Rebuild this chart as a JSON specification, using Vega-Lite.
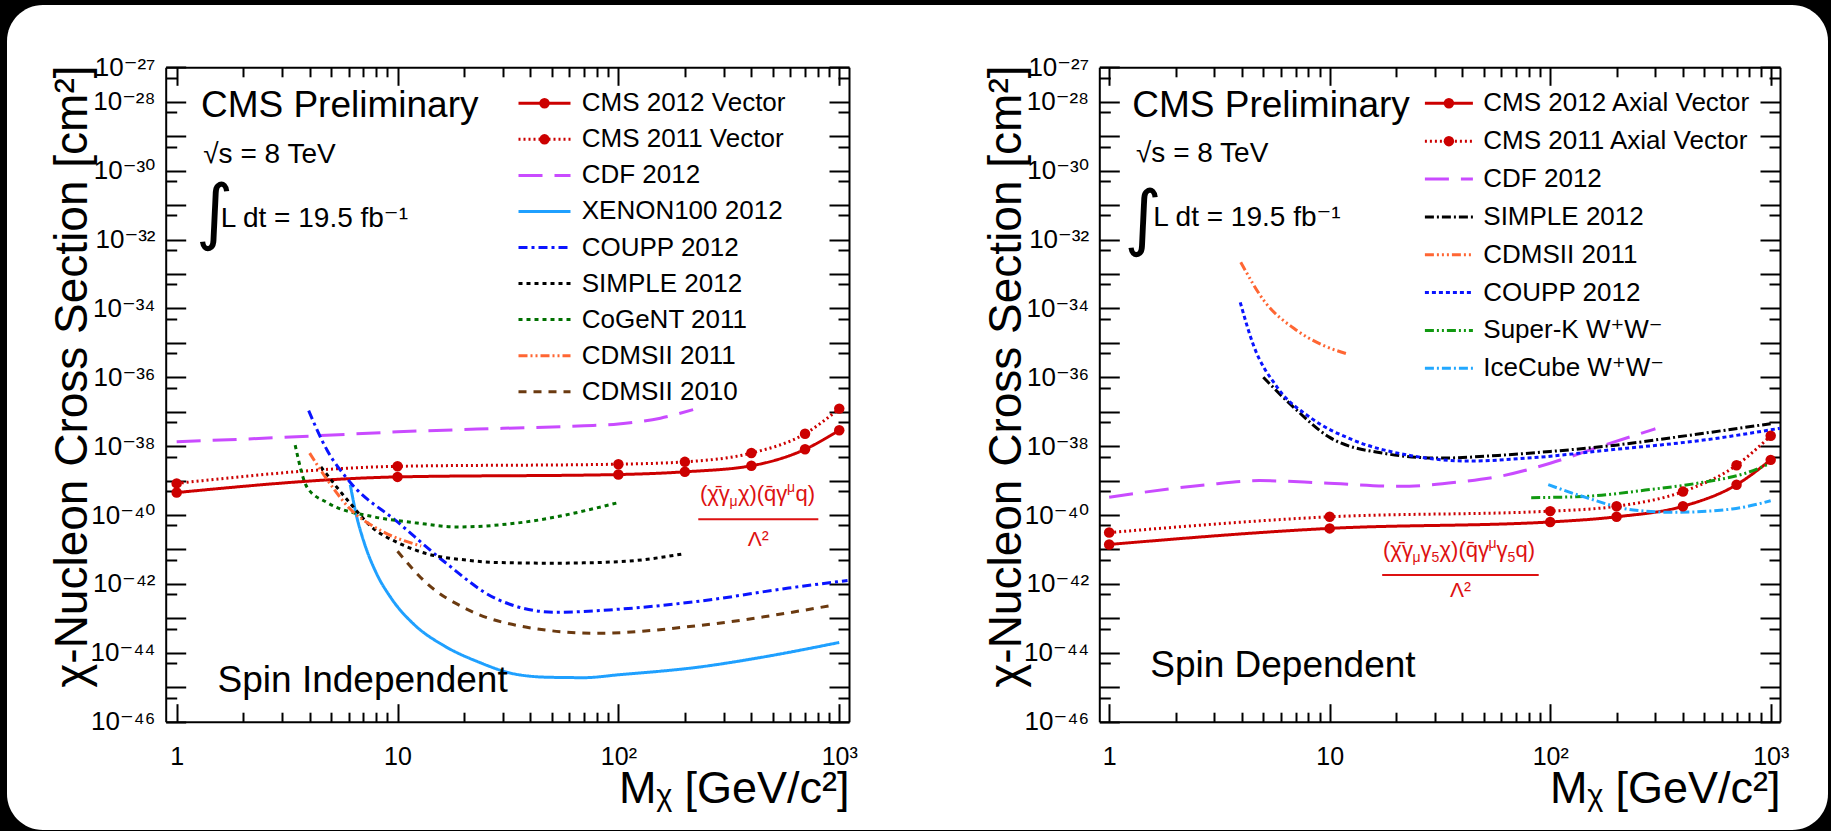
{
  "$schema": "https://vega.github.io/schema/vega-lite/v6.json",
  "width": 1821,
  "height": 825,
  "autosize": {"type": "none"},
  "padding": {"left": 7, "top": 5, "right": 3, "bottom": 1},
  "background": "black",
  "config": {
    "view": {"fill": "white", "stroke": null, "cornerRadius": 36},
    "axis": {"labelFont": "Liberation Sans, DejaVu Sans", "labelColor": "black", "titleFont": "Liberation Sans, DejaVu Sans", "titleColor": "black", "titleFontWeight": "normal", "domainColor": "black", "tickColor": "black", "grid": false, "domainWidth": 2, "tickWidth": 2, "labelFlush": false, "labelOverlap": false},
    "legend": {"labelFont": "Liberation Sans, DejaVu Sans", "labelColor": "black", "padding": 0, "labelLimit": 0},
    "text": {"font": "Liberation Sans, DejaVu Sans", "color": "black"}
  },
  "datasets": {
    "si": [
      {"s": "CMS 2012 Vector", "m": "CMS 2012 Vector", "x": 1, "y": 4.5e-40},
      {"s": "CMS 2012 Vector", "m": "CMS 2012 Vector", "x": 10, "y": 1.28e-39},
      {"s": "CMS 2012 Vector", "m": "CMS 2012 Vector", "x": 100, "y": 1.5e-39},
      {"s": "CMS 2012 Vector", "m": "CMS 2012 Vector", "x": 200, "y": 1.8e-39},
      {"s": "CMS 2012 Vector", "m": "CMS 2012 Vector", "x": 400, "y": 2.7e-39},
      {"s": "CMS 2012 Vector", "m": "CMS 2012 Vector", "x": 700, "y": 8.1e-39},
      {"s": "CMS 2012 Vector", "m": "CMS 2012 Vector", "x": 1000, "y": 2.9e-38},
      {"s": "CMS 2011 Vector", "m": "CMS 2011 Vector", "x": 1, "y": 8.3e-40},
      {"s": "CMS 2011 Vector", "m": "CMS 2011 Vector", "x": 10, "y": 2.6e-39},
      {"s": "CMS 2011 Vector", "m": "CMS 2011 Vector", "x": 100, "y": 3.0e-39},
      {"s": "CMS 2011 Vector", "m": "CMS 2011 Vector", "x": 200, "y": 3.5e-39},
      {"s": "CMS 2011 Vector", "m": "CMS 2011 Vector", "x": 400, "y": 6.3e-39},
      {"s": "CMS 2011 Vector", "m": "CMS 2011 Vector", "x": 700, "y": 2.3e-38},
      {"s": "CMS 2011 Vector", "m": "CMS 2011 Vector", "x": 1000, "y": 1.23e-37},
      {"s": "CDF 2012", "x": 1, "y": 1.35e-38},
      {"s": "CDF 2012", "x": 2, "y": 1.6e-38},
      {"s": "CDF 2012", "x": 4.3, "y": 2.0e-38},
      {"s": "CDF 2012", "x": 10, "y": 2.6e-38},
      {"s": "CDF 2012", "x": 30, "y": 3.3e-38},
      {"s": "CDF 2012", "x": 70, "y": 3.9e-38},
      {"s": "CDF 2012", "x": 100, "y": 4.4e-38},
      {"s": "CDF 2012", "x": 155, "y": 6.5e-38},
      {"s": "CDF 2012", "x": 218, "y": 1.15e-37},
      {"s": "XENON100 2012", "x": 6.11, "y": 7.6e-40},
      {"s": "XENON100 2012", "x": 6.49, "y": 1.08e-40},
      {"s": "XENON100 2012", "x": 7.07, "y": 1.55e-41},
      {"s": "XENON100 2012", "x": 7.98, "y": 2.2e-42},
      {"s": "XENON100 2012", "x": 9.35, "y": 3.9e-43},
      {"s": "XENON100 2012", "x": 11.9, "y": 6.6e-44},
      {"s": "XENON100 2012", "x": 16.2, "y": 1.62e-44},
      {"s": "XENON100 2012", "x": 23.3, "y": 5.4e-45},
      {"s": "XENON100 2012", "x": 33.6, "y": 2.45e-45},
      {"s": "XENON100 2012", "x": 48.3, "y": 1.95e-45},
      {"s": "XENON100 2012", "x": 70, "y": 1.9e-45},
      {"s": "XENON100 2012", "x": 100, "y": 2.3e-45},
      {"s": "XENON100 2012", "x": 235, "y": 3.9e-45},
      {"s": "XENON100 2012", "x": 450, "y": 7.5e-45},
      {"s": "XENON100 2012", "x": 1000, "y": 2.0e-44},
      {"s": "COUPP 2012", "x": 3.96, "y": 1.07e-37},
      {"s": "COUPP 2012", "x": 4.8, "y": 7.6e-39},
      {"s": "COUPP 2012", "x": 6.1, "y": 9.0e-40},
      {"s": "COUPP 2012", "x": 10, "y": 6.3e-41},
      {"s": "COUPP 2012", "x": 16.3, "y": 4.4e-42},
      {"s": "COUPP 2012", "x": 28, "y": 3.7e-43},
      {"s": "COUPP 2012", "x": 52, "y": 1.5e-43},
      {"s": "COUPP 2012", "x": 95, "y": 1.8e-43},
      {"s": "COUPP 2012", "x": 237, "y": 3.2e-43},
      {"s": "COUPP 2012", "x": 590, "y": 7.6e-43},
      {"s": "COUPP 2012", "x": 1090, "y": 1.26e-42},
      {"s": "SIMPLE 2012", "x": 4.5, "y": 2.5e-39},
      {"s": "SIMPLE 2012", "x": 6, "y": 2.5e-40},
      {"s": "SIMPLE 2012", "x": 7.8, "y": 4.0e-41},
      {"s": "SIMPLE 2012", "x": 10, "y": 1.6e-41},
      {"s": "SIMPLE 2012", "x": 13.5, "y": 7.6e-42},
      {"s": "SIMPLE 2012", "x": 20, "y": 5.0e-42},
      {"s": "SIMPLE 2012", "x": 28, "y": 4.2e-42},
      {"s": "SIMPLE 2012", "x": 50, "y": 4.0e-42},
      {"s": "SIMPLE 2012", "x": 100, "y": 4.4e-42},
      {"s": "SIMPLE 2012", "x": 200, "y": 7.6e-42},
      {"s": "CoGeNT 2011", "x": 3.44, "y": 1.07e-38},
      {"s": "CoGeNT 2011", "x": 3.9, "y": 6.3e-40},
      {"s": "CoGeNT 2011", "x": 4.8, "y": 2.3e-40},
      {"s": "CoGeNT 2011", "x": 7.8, "y": 8.9e-41},
      {"s": "CoGeNT 2011", "x": 12, "y": 6.0e-41},
      {"s": "CoGeNT 2011", "x": 18.4, "y": 4.5e-41},
      {"s": "CoGeNT 2011", "x": 38, "y": 6.3e-41},
      {"s": "CoGeNT 2011", "x": 100, "y": 2.3e-40},
      {"s": "CDMSII 2011", "x": 4, "y": 6.3e-39},
      {"s": "CDMSII 2011", "x": 4.8, "y": 1.07e-39},
      {"s": "CDMSII 2011", "x": 6.1, "y": 1.5e-40},
      {"s": "CDMSII 2011", "x": 8.3, "y": 3.7e-41},
      {"s": "CDMSII 2011", "x": 12.8, "y": 1.26e-41},
      {"s": "CDMSII 2010", "x": 10, "y": 8.9e-42},
      {"s": "CDMSII 2010", "x": 13.5, "y": 1.07e-42},
      {"s": "CDMSII 2010", "x": 20.8, "y": 1.8e-43},
      {"s": "CDMSII 2010", "x": 38, "y": 5.6e-44},
      {"s": "CDMSII 2010", "x": 79, "y": 3.7e-44},
      {"s": "CDMSII 2010", "x": 237, "y": 6.3e-44},
      {"s": "CDMSII 2010", "x": 900, "y": 2.3e-43}
    ],
    "sd": [
      {"s": "CMS 2012 Axial Vector", "m": "CMS 2012 Axial Vector", "x": 1, "y": 1.4e-41},
      {"s": "CMS 2012 Axial Vector", "m": "CMS 2012 Axial Vector", "x": 10, "y": 4.1e-41},
      {"s": "CMS 2012 Axial Vector", "m": "CMS 2012 Axial Vector", "x": 100, "y": 6.3e-41},
      {"s": "CMS 2012 Axial Vector", "m": "CMS 2012 Axial Vector", "x": 200, "y": 8.9e-41},
      {"s": "CMS 2012 Axial Vector", "m": "CMS 2012 Axial Vector", "x": 400, "y": 1.8e-40},
      {"s": "CMS 2012 Axial Vector", "m": "CMS 2012 Axial Vector", "x": 700, "y": 7.6e-40},
      {"s": "CMS 2012 Axial Vector", "m": "CMS 2012 Axial Vector", "x": 1000, "y": 4.0e-39},
      {"s": "CMS 2011 Axial Vector", "m": "CMS 2011 Axial Vector", "x": 1, "y": 3.1e-41},
      {"s": "CMS 2011 Axial Vector", "m": "CMS 2011 Axial Vector", "x": 10, "y": 8.9e-41},
      {"s": "CMS 2011 Axial Vector", "m": "CMS 2011 Axial Vector", "x": 100, "y": 1.3e-40},
      {"s": "CMS 2011 Axial Vector", "m": "CMS 2011 Axial Vector", "x": 200, "y": 1.8e-40},
      {"s": "CMS 2011 Axial Vector", "m": "CMS 2011 Axial Vector", "x": 400, "y": 4.8e-40},
      {"s": "CMS 2011 Axial Vector", "m": "CMS 2011 Axial Vector", "x": 700, "y": 2.8e-39},
      {"s": "CMS 2011 Axial Vector", "m": "CMS 2011 Axial Vector", "x": 1000, "y": 2.0e-38},
      {"s": "CDF 2012", "x": 1, "y": 3.3e-40},
      {"s": "CDF 2012", "x": 2.77, "y": 7.6e-40},
      {"s": "CDF 2012", "x": 4.8, "y": 1.0e-39},
      {"s": "CDF 2012", "x": 9.4, "y": 8.5e-40},
      {"s": "CDF 2012", "x": 20.7, "y": 6.8e-40},
      {"s": "CDF 2012", "x": 38, "y": 9.0e-40},
      {"s": "CDF 2012", "x": 58, "y": 1.3e-39},
      {"s": "CDF 2012", "x": 100, "y": 3.2e-39},
      {"s": "CDF 2012", "x": 176, "y": 1.07e-38},
      {"s": "CDF 2012", "x": 300, "y": 3.2e-38},
      {"s": "SIMPLE 2012", "x": 5, "y": 1.0e-36},
      {"s": "SIMPLE 2012", "x": 6.9, "y": 1.3e-37},
      {"s": "SIMPLE 2012", "x": 10, "y": 1.8e-38},
      {"s": "SIMPLE 2012", "x": 17.3, "y": 6.3e-39},
      {"s": "SIMPLE 2012", "x": 31.8, "y": 4.5e-39},
      {"s": "SIMPLE 2012", "x": 58, "y": 5.4e-39},
      {"s": "SIMPLE 2012", "x": 100, "y": 7.0e-39},
      {"s": "SIMPLE 2012", "x": 198, "y": 1.07e-38},
      {"s": "SIMPLE 2012", "x": 365, "y": 1.8e-38},
      {"s": "SIMPLE 2012", "x": 1000, "y": 4.5e-38},
      {"s": "CDMSII 2011", "x": 3.95, "y": 2.2e-33},
      {"s": "CDMSII 2011", "x": 5.1, "y": 1.5e-34},
      {"s": "CDMSII 2011", "x": 6.9, "y": 2.6e-35},
      {"s": "CDMSII 2011", "x": 9.4, "y": 8.3e-36},
      {"s": "CDMSII 2011", "x": 12, "y": 4.8e-36},
      {"s": "COUPP 2012", "x": 3.93, "y": 1.5e-34},
      {"s": "COUPP 2012", "x": 4.5, "y": 8.9e-36},
      {"s": "COUPP 2012", "x": 5.76, "y": 5.3e-37},
      {"s": "COUPP 2012", "x": 8.3, "y": 6.3e-38},
      {"s": "COUPP 2012", "x": 12.8, "y": 1.5e-38},
      {"s": "COUPP 2012", "x": 23.4, "y": 5.3e-39},
      {"s": "COUPP 2012", "x": 43, "y": 3.7e-39},
      {"s": "COUPP 2012", "x": 79, "y": 4.5e-39},
      {"s": "COUPP 2012", "x": 198, "y": 8.1e-39},
      {"s": "COUPP 2012", "x": 496, "y": 1.5e-38},
      {"s": "COUPP 2012", "x": 1100, "y": 3.3e-38},
      {"s": "Super-K W⁺W⁻", "x": 82, "y": 3.2e-40},
      {"s": "Super-K W⁺W⁻", "x": 146, "y": 3.5e-40},
      {"s": "Super-K W⁺W⁻", "x": 270, "y": 5.3e-40},
      {"s": "Super-K W⁺W⁻", "x": 496, "y": 9.0e-40},
      {"s": "Super-K W⁺W⁻", "x": 760, "y": 1.6e-39},
      {"s": "Super-K W⁺W⁻", "x": 1000, "y": 3.2e-39},
      {"s": "IceCube W⁺W⁻", "x": 98, "y": 7.6e-40},
      {"s": "IceCube W⁺W⁻", "x": 146, "y": 3.2e-40},
      {"s": "IceCube W⁺W⁻", "x": 238, "y": 1.4e-40},
      {"s": "IceCube W⁺W⁻", "x": 365, "y": 1.2e-40},
      {"s": "IceCube W⁺W⁻", "x": 668, "y": 1.5e-40},
      {"s": "IceCube W⁺W⁻", "x": 1000, "y": 2.6e-40}
    ]
  },
  "layer": [
    {
      "layer": [
        {
          "data": {"name": "si"},
          "mark": {"type": "line", "strokeWidth": 3, "interpolate": "monotone"},
          "encoding": {
            "x": {"field": "x", "type": "quantitative",
              "scale": {"type": "log", "domain": [0.892, 1107], "range": [158.7, 842], "nice": false},
              "axis": {"orient": "bottom", "offset": -108.3, "values": [1, 10, 100, 1000], "ticks": false, "domain": false, "labelFontSize": 25, "labelPadding": 23, "labelExpr": "datum.value == 1 ? '1' : datum.value == 10 ? '10' : datum.value == 100 ? '10²' : '10³'", "title": "Mᵪ [GeV/c²]", "titleFontSize": 45, "titleX": 842, "titleY": 80.3, "titleAlign": "right", "titleBaseline": "alphabetic", "titleAngle": 0}},
            "y": {"field": "y", "type": "quantitative",
              "scale": {"type": "log", "domain": [1e-46, 1e-27], "range": [716.7, 62.3], "nice": false},
              "axis": {"orient": "left", "offset": -158.7, "values": [1e-27, 1e-28, 1e-30, 1e-32, 1e-34, 1e-36, 1e-38, 1e-40, 1e-42, 1e-44, 1e-46], "ticks": false, "domain": false, "labelFontSize": 26, "labelPadding": 10.7, "labelExpr": "'10⁻' + substring('⁰¹²³⁴⁵⁶⁷⁸⁹', floor(round(-log(datum.value)/LN10)/10), floor(round(-log(datum.value)/LN10)/10)+1) + substring('⁰¹²³⁴⁵⁶⁷⁸⁹', round(-log(datum.value)/LN10)%10, round(-log(datum.value)/LN10)%10+1)", "title": "χ-Nucleon Cross Section [cm²]", "titleFontSize": 46, "titleAngle": -90, "titleAlign": "right", "titleBaseline": "alphabetic", "titleX": -79, "titleY": 60}},
            "color": {"field": "s", "type": "nominal",
              "scale": {"domain": ["CMS 2012 Vector", "CMS 2011 Vector", "CDF 2012", "XENON100 2012", "COUPP 2012", "SIMPLE 2012", "CoGeNT 2011", "CDMSII 2011", "CDMSII 2010"], "range": ["#cc0000", "#cc0000", "#c94bff", "#1fa0ff", "#0a14ff", "#000000", "#007000", "#ff6633", "#6b3a10"]},
              "legend": {"orient": "none", "legendX": 524.5, "legendY": 85.3, "title": null, "symbolType": "M-2.6,0H2.6", "symbolSize": 400, "symbolStrokeWidth": 3, "labelFontSize": 26, "labelOffset": 24.2, "rowPadding": 10.05}},
            "strokeDash": {"field": "s", "type": "nominal",
              "scale": {"domain": ["CMS 2012 Vector", "CMS 2011 Vector", "CDF 2012", "XENON100 2012", "COUPP 2012", "SIMPLE 2012", "CoGeNT 2011", "CDMSII 2011", "CDMSII 2010"], "range": [[1, 0], [2, 3], [24, 12], [1, 0], [9, 4, 3, 4], [4, 4], [4, 4], [9, 3, 2, 3, 2, 3], [8, 7]]},
              "legend": {"orient": "none", "legendX": 524.5, "legendY": 85.3, "title": null, "symbolType": "M-2.6,0H2.6", "symbolSize": 400, "symbolStrokeWidth": 3, "labelFontSize": 26, "labelOffset": 24.2, "rowPadding": 10.05}}
          }
        },
        {
          "data": {"name": "si"},
          "transform": [{"filter": "isValid(datum.m)"}],
          "mark": {"type": "point", "filled": true, "size": 110, "color": "#cc0000", "opacity": 1},
          "encoding": {
            "x": {"field": "x", "type": "quantitative", "axis": {"orient": "bottom", "offset": -108.3, "values": [1, 10, 100, 1000], "tickSize": -18, "labels": false, "domain": true, "title": null}},
            "y": {"field": "y", "type": "quantitative", "axis": {"orient": "left", "offset": -158.7, "values": [1e-27, 1e-28, 1e-29, 1e-30, 1e-31, 1e-32, 1e-33, 1e-34, 1e-35, 1e-36, 1e-37, 1e-38, 1e-39, 1e-40, 1e-41, 1e-42, 1e-43, 1e-44, 1e-45, 1e-46], "tickSize": -20, "labels": false, "domain": true, "title": null}},
            "shape": {"field": "m", "type": "nominal", "scale": {"domain": ["CMS 2012 Vector", "CMS 2011 Vector"], "range": ["circle", "circle"]},
              "legend": {"orient": "none", "legendX": 524.5, "legendY": 85.3, "title": null, "symbolSize": 110, "symbolFillColor": "#cc0000", "symbolStrokeColor": "#cc0000", "symbolStrokeWidth": 0, "labelFontSize": 26, "labelOpacity": 0, "labelOffset": 24.2, "rowPadding": 10.05}}
          }
        },
        {
          "data": {"values": [{}]},
          "mark": {"type": "text", "align": "left", "baseline": "alphabetic", "fontSize": 37, "text": "CMS Preliminary"},
          "encoding": {
            "x": {"datum": 1.288, "type": "quantitative", "axis": {"orient": "bottom", "offset": -108.3, "values": [2, 3, 4, 5, 6, 7, 8, 9, 20, 30, 40, 50, 60, 70, 80, 90, 200, 300, 400, 500, 600, 700, 800, 900], "tickSize": -9.5, "labels": false, "domain": false, "title": null}},
            "y": {"datum": 3.53e-29, "type": "quantitative", "axis": {"orient": "left", "offset": -158.7, "values": [5e-28, 5e-29, 5e-30, 5e-31, 5e-32, 5e-33, 5e-34, 5e-35, 5e-36, 5e-37, 5e-38, 5e-39, 5e-40, 5e-41, 5e-42, 5e-43, 5e-44, 5e-45, 5e-46], "tickSize": -11, "labels": false, "domain": false, "title": null}}
          }
        },
        {
          "data": {"values": [{}]},
          "mark": {"type": "text", "align": "left", "baseline": "alphabetic", "fontSize": 28, "text": "√s = 8 TeV"},
          "encoding": {
            "x": {"datum": 1.3195, "type": "quantitative", "axis": {"orient": "top", "offset": -62.3, "values": [1, 10, 100, 1000], "tickSize": -18, "labels": false, "domain": true, "title": null}},
            "y": {"datum": 1.70e-30, "type": "quantitative", "axis": {"orient": "right", "offset": -979, "values": [1e-27, 1e-28, 1e-29, 1e-30, 1e-31, 1e-32, 1e-33, 1e-34, 1e-35, 1e-36, 1e-37, 1e-38, 1e-39, 1e-40, 1e-41, 1e-42, 1e-43, 1e-44, 1e-45, 1e-46], "tickSize": -20, "labels": false, "domain": true, "title": null}}
          }
        },
        {
          "data": {"values": [{}]},
          "mark": {"type": "text", "align": "left", "baseline": "alphabetic", "fontSize": 28, "text": "L dt = 19.5 fb⁻¹"},
          "encoding": {
            "x": {"datum": 1.582, "type": "quantitative", "axis": {"orient": "top", "offset": -62.3, "values": [2, 3, 4, 5, 6, 7, 8, 9, 20, 30, 40, 50, 60, 70, 80, 90, 200, 300, 400, 500, 600, 700, 800, 900], "tickSize": -9.5, "labels": false, "domain": false, "title": null}},
            "y": {"datum": 2.355e-32, "type": "quantitative", "axis": {"orient": "right", "offset": -979, "values": [5e-28, 5e-29, 5e-30, 5e-31, 5e-32, 5e-33, 5e-34, 5e-35, 5e-36, 5e-37, 5e-38, 5e-39, 5e-40, 5e-41, 5e-42, 5e-43, 5e-44, 5e-45, 5e-46], "tickSize": -11, "labels": false, "domain": false, "title": null}}
          }
        },
        {
          "data": {"values": [{}]},
          "mark": {"type": "text", "align": "left", "baseline": "alphabetic", "fontSize": 72, "font": "DejaVu Sans", "text": "∫"},
          "encoding": {"x": {"datum": 1.22, "type": "quantitative", "axis": null}, "y": {"datum": 1.265e-32, "type": "quantitative", "axis": null}}
        },
        {
          "data": {"values": [{}]},
          "mark": {"type": "text", "align": "left", "baseline": "alphabetic", "fontSize": 37, "text": "Spin Independent"},
          "encoding": {"x": {"datum": 1.532, "type": "quantitative", "axis": null}, "y": {"datum": 7.26e-46, "type": "quantitative", "axis": null}}
        },
        {
          "data": {"values": [{}]},
          "mark": {"type": "text", "align": "left", "baseline": "alphabetic", "fontSize": 22, "color": "#dd1111", "text": "(χ̄γ"},
          "encoding": {"x": {"datum": 233.9, "type": "quantitative", "axis": null}, "y": {"datum": 2.55e-40, "type": "quantitative", "axis": null}}
        },
        {
          "data": {"values": [{}]},
          "mark": {"type": "text", "align": "left", "baseline": "alphabetic", "fontSize": 14, "color": "#dd1111", "dx": 29.5, "dy": 5, "text": "μ"},
          "encoding": {"x": {"datum": 233.9, "type": "quantitative", "axis": null}, "y": {"datum": 2.55e-40, "type": "quantitative", "axis": null}}
        },
        {
          "data": {"values": [{}]},
          "mark": {"type": "text", "align": "left", "baseline": "alphabetic", "fontSize": 22, "color": "#dd1111", "dx": 38, "text": "χ)(q̄γ"},
          "encoding": {"x": {"datum": 233.9, "type": "quantitative", "axis": null}, "y": {"datum": 2.55e-40, "type": "quantitative", "axis": null}}
        },
        {
          "data": {"values": [{}]},
          "mark": {"type": "text", "align": "left", "baseline": "alphabetic", "fontSize": 14, "color": "#dd1111", "dx": 87, "dy": -9, "text": "μ"},
          "encoding": {"x": {"datum": 233.9, "type": "quantitative", "axis": null}, "y": {"datum": 2.55e-40, "type": "quantitative", "axis": null}}
        },
        {
          "data": {"values": [{}]},
          "mark": {"type": "text", "align": "left", "baseline": "alphabetic", "fontSize": 22, "color": "#dd1111", "dx": 95.5, "text": "q)"},
          "encoding": {"x": {"datum": 233.9, "type": "quantitative", "axis": null}, "y": {"datum": 2.55e-40, "type": "quantitative", "axis": null}}
        },
        {
          "data": {"values": [{}]},
          "mark": {"type": "rule", "color": "#dd1111", "strokeWidth": 2},
          "encoding": {"x": {"datum": 230, "type": "quantitative", "axis": null}, "x2": {"datum": 804}, "y": {"datum": 7.57e-41, "type": "quantitative", "axis": null}}
        },
        {
          "data": {"values": [{}]},
          "mark": {"type": "text", "align": "center", "baseline": "alphabetic", "fontSize": 21, "color": "#dd1111", "text": "Λ²"},
          "encoding": {"x": {"datum": 430, "type": "quantitative", "axis": null}, "y": {"datum": 1.265e-41, "type": "quantitative", "axis": null}}
        }
      ],
      "resolve": {"axis": {"x": "independent", "y": "independent"}}
    },
    {
      "layer": [
        {
          "data": {"name": "sd"},
          "mark": {"type": "line", "strokeWidth": 3, "interpolate": "monotone"},
          "encoding": {
            "x": {"field": "x", "type": "quantitative",
              "scale": {"type": "log", "domain": [0.902, 1102], "range": [1092.3, 1773], "nice": false},
              "axis": {"orient": "bottom", "offset": -108.3, "values": [1, 10, 100, 1000], "ticks": false, "domain": false, "labelFontSize": 25, "labelPadding": 23, "labelExpr": "datum.value == 1 ? '1' : datum.value == 10 ? '10' : datum.value == 100 ? '10²' : '10³'", "title": "Mᵪ [GeV/c²]", "titleFontSize": 45, "titleX": 1773, "titleY": 80.3, "titleAlign": "right", "titleBaseline": "alphabetic", "titleAngle": 0}},
            "y": {"field": "y", "type": "quantitative",
              "scale": {"type": "log", "domain": [1e-46, 1e-27], "range": [716.7, 62.3], "nice": false},
              "axis": {"orient": "left", "offset": -1092.3, "values": [1e-27, 1e-28, 1e-30, 1e-32, 1e-34, 1e-36, 1e-38, 1e-40, 1e-42, 1e-44, 1e-46], "ticks": false, "domain": false, "labelFontSize": 26, "labelPadding": 10.7, "labelExpr": "'10⁻' + substring('⁰¹²³⁴⁵⁶⁷⁸⁹', floor(round(-log(datum.value)/LN10)/10), floor(round(-log(datum.value)/LN10)/10)+1) + substring('⁰¹²³⁴⁵⁶⁷⁸⁹', round(-log(datum.value)/LN10)%10, round(-log(datum.value)/LN10)%10+1)", "title": "χ-Nucleon Cross Section [cm²]", "titleFontSize": 46, "titleAngle": -90, "titleAlign": "right", "titleBaseline": "alphabetic", "titleX": -79, "titleY": 60}},
            "color": {"field": "s", "type": "nominal",
              "scale": {"domain": ["CMS 2012 Axial Vector", "CMS 2011 Axial Vector", "CDF 2012", "SIMPLE 2012", "CDMSII 2011", "COUPP 2012", "Super-K W⁺W⁻", "IceCube W⁺W⁻"], "range": ["#cc0000", "#cc0000", "#c94bff", "#000000", "#ff6633", "#0a14ff", "#119911", "#22a8ff"]},
              "legend": {"orient": "none", "legendX": 1428.9, "legendY": 85.3, "title": null, "symbolType": "M-2.4,0H2.4", "symbolSize": 400, "symbolStrokeWidth": 3, "labelFontSize": 26, "labelOffset": 21.4, "rowPadding": 11.86}},
            "strokeDash": {"field": "s", "type": "nominal",
              "scale": {"domain": ["CMS 2012 Axial Vector", "CMS 2011 Axial Vector", "CDF 2012", "SIMPLE 2012", "CDMSII 2011", "COUPP 2012", "Super-K W⁺W⁻", "IceCube W⁺W⁻"], "range": [[1, 0], [2, 3], [24, 12], [9, 3, 2, 3], [9, 3, 2, 3, 2, 3, 2, 3], [4, 3], [9, 3, 2, 3, 2, 3], [9, 3, 2, 3]]},
              "legend": {"orient": "none", "legendX": 1428.9, "legendY": 85.3, "title": null, "symbolType": "M-2.4,0H2.4", "symbolSize": 400, "symbolStrokeWidth": 3, "labelFontSize": 26, "labelOffset": 21.4, "rowPadding": 11.86}}
          }
        },
        {
          "data": {"name": "sd"},
          "transform": [{"filter": "isValid(datum.m)"}],
          "mark": {"type": "point", "filled": true, "size": 110, "color": "#cc0000", "opacity": 1},
          "encoding": {
            "x": {"field": "x", "type": "quantitative", "axis": {"orient": "bottom", "offset": -108.3, "values": [1, 10, 100, 1000], "tickSize": -18, "labels": false, "domain": true, "title": null}},
            "y": {"field": "y", "type": "quantitative", "axis": {"orient": "left", "offset": -1092.3, "values": [1e-27, 1e-28, 1e-29, 1e-30, 1e-31, 1e-32, 1e-33, 1e-34, 1e-35, 1e-36, 1e-37, 1e-38, 1e-39, 1e-40, 1e-41, 1e-42, 1e-43, 1e-44, 1e-45, 1e-46], "tickSize": -20, "labels": false, "domain": true, "title": null}},
            "shape": {"field": "m", "type": "nominal", "scale": {"domain": ["CMS 2012 Axial Vector", "CMS 2011 Axial Vector"], "range": ["circle", "circle"]},
              "legend": {"orient": "none", "legendX": 1428.9, "legendY": 85.3, "title": null, "symbolSize": 110, "symbolFillColor": "#cc0000", "symbolStrokeColor": "#cc0000", "symbolStrokeWidth": 0, "labelFontSize": 26, "labelOpacity": 0, "labelOffset": 21.4, "rowPadding": 11.86}}
          }
        },
        {
          "data": {"values": [{}]},
          "mark": {"type": "text", "align": "left", "baseline": "alphabetic", "fontSize": 37, "text": "CMS Preliminary"},
          "encoding": {
            "x": {"datum": 1.273, "type": "quantitative", "axis": {"orient": "bottom", "offset": -108.3, "values": [2, 3, 4, 5, 6, 7, 8, 9, 20, 30, 40, 50, 60, 70, 80, 90, 200, 300, 400, 500, 600, 700, 800, 900], "tickSize": -9.5, "labels": false, "domain": false, "title": null}},
            "y": {"datum": 3.68e-29, "type": "quantitative", "axis": {"orient": "left", "offset": -1092.3, "values": [5e-28, 5e-29, 5e-30, 5e-31, 5e-32, 5e-33, 5e-34, 5e-35, 5e-36, 5e-37, 5e-38, 5e-39, 5e-40, 5e-41, 5e-42, 5e-43, 5e-44, 5e-45, 5e-46], "tickSize": -11, "labels": false, "domain": false, "title": null}}
          }
        },
        {
          "data": {"values": [{}]},
          "mark": {"type": "text", "align": "left", "baseline": "alphabetic", "fontSize": 28, "text": "√s = 8 TeV"},
          "encoding": {
            "x": {"datum": 1.323, "type": "quantitative", "axis": {"orient": "top", "offset": -62.3, "values": [1, 10, 100, 1000], "tickSize": -18, "labels": false, "domain": true, "title": null}},
            "y": {"datum": 1.815e-30, "type": "quantitative", "axis": {"orient": "right", "offset": -48, "values": [1e-27, 1e-28, 1e-29, 1e-30, 1e-31, 1e-32, 1e-33, 1e-34, 1e-35, 1e-36, 1e-37, 1e-38, 1e-39, 1e-40, 1e-41, 1e-42, 1e-43, 1e-44, 1e-45, 1e-46], "tickSize": -20, "labels": false, "domain": true, "title": null}}
          }
        },
        {
          "data": {"values": [{}]},
          "mark": {"type": "text", "align": "left", "baseline": "alphabetic", "fontSize": 28, "text": "L dt = 19.5 fb⁻¹"},
          "encoding": {
            "x": {"datum": 1.585, "type": "quantitative", "axis": {"orient": "top", "offset": -62.3, "values": [2, 3, 4, 5, 6, 7, 8, 9, 20, 30, 40, 50, 60, 70, 80, 90, 200, 300, 400, 500, 600, 700, 800, 900], "tickSize": -9.5, "labels": false, "domain": false, "title": null}},
            "y": {"datum": 2.52e-32, "type": "quantitative", "axis": {"orient": "right", "offset": -48, "values": [5e-28, 5e-29, 5e-30, 5e-31, 5e-32, 5e-33, 5e-34, 5e-35, 5e-36, 5e-37, 5e-38, 5e-39, 5e-40, 5e-41, 5e-42, 5e-43, 5e-44, 5e-45, 5e-46], "tickSize": -11, "labels": false, "domain": false, "title": null}}
          }
        },
        {
          "data": {"values": [{}]},
          "mark": {"type": "text", "align": "left", "baseline": "alphabetic", "fontSize": 72, "font": "DejaVu Sans", "text": "∫"},
          "encoding": {"x": {"datum": 1.17, "type": "quantitative", "axis": null}, "y": {"datum": 8.45e-33, "type": "quantitative", "axis": null}}
        },
        {
          "data": {"values": [{}]},
          "mark": {"type": "text", "align": "left", "baseline": "alphabetic", "fontSize": 37, "text": "Spin Dependent"},
          "encoding": {"x": {"datum": 1.535, "type": "quantitative", "axis": null}, "y": {"datum": 1.95e-45, "type": "quantitative", "axis": null}}
        },
        {
          "data": {"values": [{}]},
          "mark": {"type": "text", "align": "left", "baseline": "alphabetic", "fontSize": 22, "color": "#dd1111", "text": "(χ̄γ"},
          "encoding": {"x": {"datum": 17.45, "type": "quantitative", "axis": null}, "y": {"datum": 6.0e-42, "type": "quantitative", "axis": null}}
        },
        {
          "data": {"values": [{}]},
          "mark": {"type": "text", "align": "left", "baseline": "alphabetic", "fontSize": 14, "color": "#dd1111", "dx": 29.5, "dy": 5, "text": "μ"},
          "encoding": {"x": {"datum": 17.45, "type": "quantitative", "axis": null}, "y": {"datum": 6.0e-42, "type": "quantitative", "axis": null}}
        },
        {
          "data": {"values": [{}]},
          "mark": {"type": "text", "align": "left", "baseline": "alphabetic", "fontSize": 22, "color": "#dd1111", "dx": 37.5, "text": "γ"},
          "encoding": {"x": {"datum": 17.45, "type": "quantitative", "axis": null}, "y": {"datum": 6.0e-42, "type": "quantitative", "axis": null}}
        },
        {
          "data": {"values": [{}]},
          "mark": {"type": "text", "align": "left", "baseline": "alphabetic", "fontSize": 14, "color": "#dd1111", "dx": 48.5, "dy": 5, "text": "5"},
          "encoding": {"x": {"datum": 17.45, "type": "quantitative", "axis": null}, "y": {"datum": 6.0e-42, "type": "quantitative", "axis": null}}
        },
        {
          "data": {"values": [{}]},
          "mark": {"type": "text", "align": "left", "baseline": "alphabetic", "fontSize": 22, "color": "#dd1111", "dx": 56.5, "text": "χ)(q̄γ"},
          "encoding": {"x": {"datum": 17.45, "type": "quantitative", "axis": null}, "y": {"datum": 6.0e-42, "type": "quantitative", "axis": null}}
        },
        {
          "data": {"values": [{}]},
          "mark": {"type": "text", "align": "left", "baseline": "alphabetic", "fontSize": 14, "color": "#dd1111", "dx": 105.5, "dy": -9, "text": "μ"},
          "encoding": {"x": {"datum": 17.45, "type": "quantitative", "axis": null}, "y": {"datum": 6.0e-42, "type": "quantitative", "axis": null}}
        },
        {
          "data": {"values": [{}]},
          "mark": {"type": "text", "align": "left", "baseline": "alphabetic", "fontSize": 22, "color": "#dd1111", "dx": 113.5, "text": "γ"},
          "encoding": {"x": {"datum": 17.45, "type": "quantitative", "axis": null}, "y": {"datum": 6.0e-42, "type": "quantitative", "axis": null}}
        },
        {
          "data": {"values": [{}]},
          "mark": {"type": "text", "align": "left", "baseline": "alphabetic", "fontSize": 14, "color": "#dd1111", "dx": 124.5, "dy": 5, "text": "5"},
          "encoding": {"x": {"datum": 17.45, "type": "quantitative", "axis": null}, "y": {"datum": 6.0e-42, "type": "quantitative", "axis": null}}
        },
        {
          "data": {"values": [{}]},
          "mark": {"type": "text", "align": "left", "baseline": "alphabetic", "fontSize": 22, "color": "#dd1111", "dx": 132.5, "text": "q)"},
          "encoding": {"x": {"datum": 17.45, "type": "quantitative", "axis": null}, "y": {"datum": 6.0e-42, "type": "quantitative", "axis": null}}
        },
        {
          "data": {"values": [{}]},
          "mark": {"type": "rule", "color": "#dd1111", "strokeWidth": 2},
          "encoding": {"x": {"datum": 17.3, "type": "quantitative", "axis": null}, "x2": {"datum": 88.7}, "y": {"datum": 1.81e-42, "type": "quantitative", "axis": null}}
        },
        {
          "data": {"values": [{}]},
          "mark": {"type": "text", "align": "center", "baseline": "alphabetic", "fontSize": 21, "color": "#dd1111", "text": "Λ²"},
          "encoding": {"x": {"datum": 39.2, "type": "quantitative", "axis": null}, "y": {"datum": 4.17e-43, "type": "quantitative", "axis": null}}
        }
      ],
      "resolve": {"axis": {"x": "independent", "y": "independent"}}
    }
  ],
  "resolve": {
    "scale": {"x": "independent", "y": "independent", "color": "independent", "strokeDash": "independent", "shape": "independent"},
    "legend": {"color": "independent", "strokeDash": "independent", "shape": "independent"}
  }
}
